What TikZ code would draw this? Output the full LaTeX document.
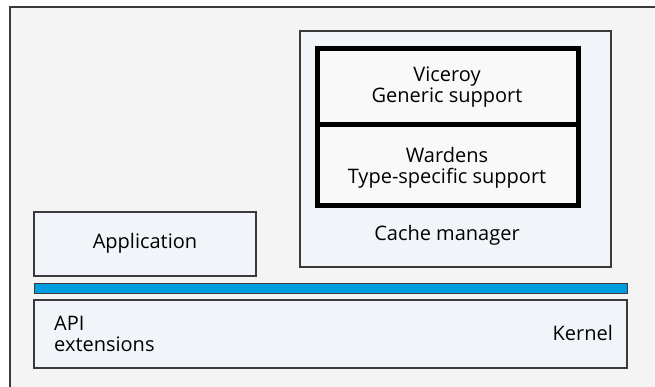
\documentclass[tikz,border=0pt]{standalone}
\usepackage{fontspec}
\setmainfont{Open Sans}
\definecolor{bgc}{HTML}{F4F4F4}
\definecolor{boxc}{HTML}{F1F5FA}
\definecolor{innerc}{HTML}{F9F9F9}
\definecolor{edgec}{HTML}{3A3A3A}
\definecolor{barc}{HTML}{009DDE}
\begin{document}
\begin{tikzpicture}[x=1pt,y=-1pt,
  box/.style={draw=edgec,line width=1.2pt,fill=boxc},
  thick box/.style={draw=black,line width=5pt,fill=innerc},
  lbl/.style={font=\fontsize{20}{21}\selectfont,align=center,inner sep=0pt}]
\useasboundingbox (0,0) rectangle (655,387);
\fill[white] (0,0) rectangle (655,387);
\fill[bgc] (10,7) rectangle (655,387);
\draw[edgec,line width=1.5pt] (10,387) -- (10,7) -- (655,7);
% cache manager
\node[box,minimum width=311pt,minimum height=236pt,inner sep=0pt] (cm) at (455.5,149) {};
\node[thick box,minimum width=261pt,minimum height=157pt,inner sep=0pt] (inner) at (447.75,126.75) {};
\draw[black,line width=5pt] (inner.west |- 0,125) coordinate (dl) -- (inner.east |- 0,125) coordinate (dr);
\node[lbl] (vic) at (447,87) {Viceroy\\Generic support};
\node[lbl] (war) at (447,168) {Wardens\\Type-specific support};
\node[lbl] (cml) at (447,235) {Cache manager};
% application
\node[box,minimum width=222pt,minimum height=64pt,inner sep=0pt] (app) at (145,244) {};
\node[lbl] (appl) at (145,243) {Application};
% bar
\node[draw=edgec,line width=1pt,fill=barc,minimum width=593pt,minimum height=10pt,inner sep=0pt] (bar) at (330.5,288) {};
% kernel
\node[box,minimum width=593pt,minimum height=68pt,inner sep=0pt] (kern) at (330.5,334) {};
\node[lbl,align=left,anchor=west] (api) at (54,334) {API\\extensions};
\node[lbl,anchor=east] (kl) at (613,333) {Kernel};
\end{tikzpicture}
\end{document}
